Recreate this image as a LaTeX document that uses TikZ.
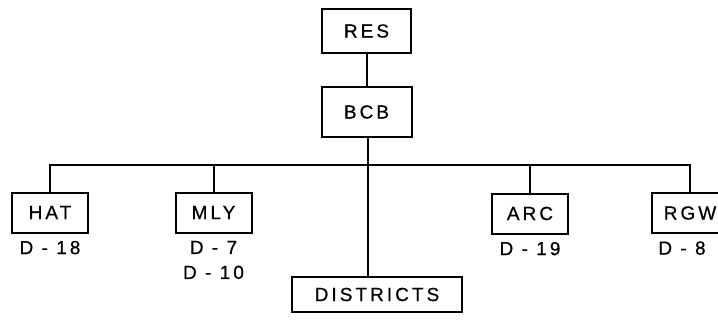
\documentclass[tikz,border=0pt]{standalone}
\usepackage{fontspec}
\setmainfont{Liberation Sans}[LetterSpace=16, FakeBold=0.6]
\usetikzlibrary{positioning}
\tikzset{
  box/.style={draw, line width=1pt, align=center, font=\fontsize{9.5}{10}\selectfont, minimum width=38pt, minimum height=20pt, inner sep=2pt, fill=white},
  lbl/.style={font=\fontsize{9.5}{10}\selectfont, align=center, inner sep=1pt},
  link/.style={line width=1pt}}

\begin{document}
\begin{tikzpicture}[x=0.5pt, y=-0.5pt]
  \clip (0,0) rectangle (718,321);
  \useasboundingbox (0,0) rectangle (718,321);
  % top of the chart
  \node[box, minimum width=44.5pt, minimum height=22pt] (res) at (366.5,31) {RES};
  \node[box, minimum width=45pt, minimum height=25pt, below=16pt of res] (bcb) {BCB};
  \coordinate (bar) at (368,165);
  % branch offices
  \node[box] (hat) at (50,212.5) {HAT};
  \node[box] (mly) at (213.5,212.5) {MLY};
  \node[box] (arc) at (530,213.5) {ARC};
  \node[box] (rgw) at (690,213) {RGW};
  \node[lbl, below=2.5pt of hat] (d18) {D - 18};
  \node[lbl, below=2.5pt of mly] (d710) {D - 7\\[2.5pt]D - 10};
  \node[lbl, below=2.5pt of arc] (d19) {D - 19};
  \node[lbl, below=2.5pt of rgw, xshift=-4pt] (d8) {D - 8};
  \node[box, minimum width=85pt, minimum height=17.5pt] (dist) at (377,294.5) {DISTRICTS};
  % connectors
  \draw[link] (res) -- (bcb);
  \draw[link] (bcb.south -| bar) -- (bar |- dist.north);
  \draw[link] (hat.north) |- (bar) -| (rgw.north);
  \draw[link] (mly.north) -- (mly.north |- bar);
  \draw[link] (arc.north) -- (arc.north |- bar);
\end{tikzpicture}
\end{document}
